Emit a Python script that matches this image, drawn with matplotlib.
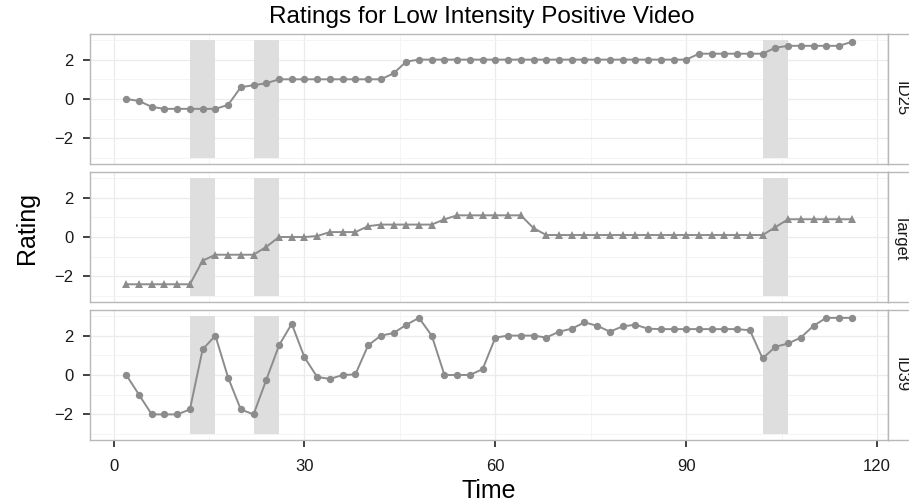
import matplotlib
matplotlib.use("Agg")
import matplotlib.pyplot as plt
from matplotlib.ticker import MultipleLocator

plt.rcParams['font.family'] = ['Liberation Sans', 'DejaVu Sans']

# Zeitpunkte (Sekunden)
time = [2, 4, 6, 8, 10, 12, 14, 16, 18, 20, 22, 24, 26, 28, 30, 32, 34, 36, 38, 40,
        42, 44, 46, 48, 50, 52, 54, 56, 58, 60, 62, 64, 66, 68, 70, 72, 74, 76, 78, 80,
        82, 84, 86, 88, 90, 92, 94, 96, 98, 100, 102, 104, 106, 108, 110, 112, 114, 116]

id25 = [0, -0.1, -0.4, -0.5, -0.5, -0.5, -0.5, -0.5, -0.3, 0.6, 0.7, 0.8, 1.0, 1.0, 1.0, 1.0,
        1.0, 1.0, 1.0, 1.0, 1.0, 1.3, 1.9, 2.0, 2.0, 2.0, 2.0, 2.0, 2.0, 2.0, 2.0, 2.0,
        2.0, 2.0, 2.0, 2.0, 2.0, 2.0, 2.0, 2.0, 2.0, 2.0, 2.0, 2.0, 2.0, 2.3, 2.3, 2.3,
        2.3, 2.3, 2.3, 2.6, 2.7, 2.7, 2.7, 2.7, 2.7, 2.9]

target = [-2.4, -2.4, -2.4, -2.4, -2.4, -2.4, -1.2, -0.9, -0.9, -0.9, -0.9, -0.5, 0, 0, 0, 0.05,
          0.25, 0.25, 0.25, 0.55, 0.63, 0.63, 0.63, 0.63, 0.63, 0.9, 1.1, 1.1, 1.1, 1.1, 1.1, 1.1,
          0.45, 0.1, 0.1, 0.1, 0.1, 0.1, 0.1, 0.1, 0.1, 0.1, 0.1, 0.1, 0.1, 0.1, 0.1, 0.1,
          0.1, 0.1, 0.1, 0.5, 0.9, 0.9, 0.9, 0.9, 0.9, 0.9]

id39 = [0, -1.0, -2.0, -2.0, -2.0, -1.75, 1.3, 2.0, -0.13, -1.75, -2.0, -0.25, 1.5, 2.6, 0.9, -0.1,
        -0.2, 0, 0.03, 1.5, 2.0, 2.13, 2.55, 2.9, 2.0, 0, 0, 0, 0.3, 1.9, 2.0, 2.0,
        2.0, 1.9, 2.2, 2.35, 2.67, 2.5, 2.2, 2.47, 2.55, 2.35, 2.33, 2.33, 2.33, 2.33, 2.33, 2.33,
        2.33, 2.27, 0.84, 1.43, 1.6, 1.9, 2.5, 2.9, 2.9, 2.9]

# markierte Zeitfenster
shade_start = [12, 22, 102]
shade_end = [16, 26, 106]

panels = [("ID25", id25, "o"), ("Target", target, "^"), ("ID39", id39, "o")]

W, H = 909, 504
fig = plt.figure(figsize=(W / 100, H / 100), dpi=100)

left, right = 90, 888
panel_tops = [34, 172, 310]
panel_h = 130
strip_w = 27

grey = "#8c8c8c"
border = "#b8b8b8"

for nr, (name, values, marker) in enumerate(panels):
    top = panel_tops[nr]
    ax = fig.add_axes([left / W, 1 - (top + panel_h) / H, (right - left) / W, panel_h / H])
    ax.set_xlim(-3.7, 121.7)
    ax.set_ylim(-3.3, 3.3)

    for s, e in zip(shade_start, shade_end):
        ax.fill_between([s, e], -3, 3, color="#dedede", linewidth=0, zorder=1)

    ax.plot(time, values, color=grey, linewidth=1.4, marker=marker,
            markersize=5.3 if marker == "o" else 6.0, markeredgewidth=0, zorder=3)

    ax.xaxis.set_major_locator(MultipleLocator(30))
    ax.xaxis.set_minor_locator(MultipleLocator(15))
    ax.yaxis.set_major_locator(MultipleLocator(2))
    ax.yaxis.set_minor_locator(MultipleLocator(1))
    ax.grid(which="major", color="#ebebeb", linewidth=0.9, zorder=0)
    ax.grid(which="minor", color="#f4f4f4", linewidth=0.7, zorder=0)
    ax.set_axisbelow(True)

    for sp in ax.spines.values():
        sp.set_color(border)
        sp.set_linewidth(1.0)

    ax.tick_params(axis="both", which="minor", length=0)
    ax.tick_params(axis="y", which="major", length=5, width=1.3, color="#333333",
                   labelsize=12, labelcolor="#1a1a1a", pad=7)
    if nr < 2:
        ax.tick_params(axis="x", which="major", length=0, labelbottom=False)
    else:
        ax.tick_params(axis="x", which="major", length=5, width=1.3, color="#333333",
                       labelsize=12, labelcolor="#1a1a1a", pad=9)
        ax.set_xlabel("Time", fontsize=18, labelpad=3)

    # Facetten-Streifen rechts
    sax = fig.add_axes([right / W, 1 - (top + panel_h) / H, strip_w / W, panel_h / H])
    sax.set_xticks([])
    sax.set_yticks([])
    for sp in sax.spines.values():
        sp.set_color(border)
        sp.set_linewidth(1.0)
    sax.text(0.48, 0.5, name, rotation=270, ha="center", va="center",
             fontsize=12, color="#1a1a1a", transform=sax.transAxes)

fig.text(27 / W, 1 - 228 / H, "Rating", rotation=90, ha="center", va="center", fontsize=18)
fig.text(482 / W, 1 - 17 / H, "Ratings for Low Intensity Positive Video",
         ha="center", va="center", fontsize=17.5)

fig.savefig("out.png", dpi=100)
